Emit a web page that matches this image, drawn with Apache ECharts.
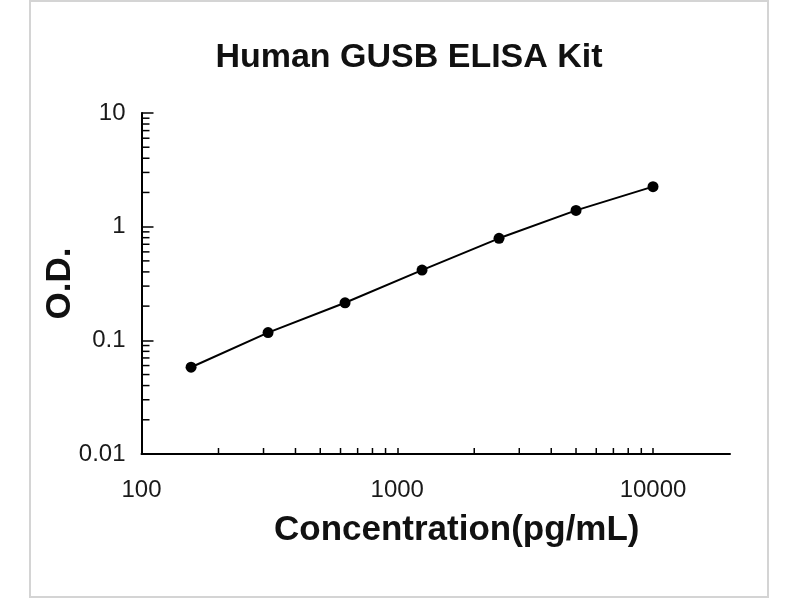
<!DOCTYPE html>
<html>
<head>
<meta charset="utf-8">
<script src="https://cdn.jsdelivr.net/npm/echarts@6/dist/echarts.min.js"></script>
<style>
  html, body { margin: 0; padding: 0; background: #fff; }
  #chart { width: 800px; height: 600px; }
</style>
</head>
<body>
<div id="chart"></div>
<script>
// ---- data ----
const concentrations = [156.25, 312.5, 625, 1250, 2500, 5000, 10000];
const odValues = [0.058, 0.117, 0.214, 0.415, 0.79, 1.39, 2.25];
const xRange = [100, 20000];
const yRange = [0.01, 10];
const xMinorTicks = [200, 300, 400, 500, 600, 700, 800, 900, 2000, 3000, 4000, 5000, 6000, 7000, 8000, 9000];
const yMinorTicks = [0.02, 0.03, 0.04, 0.05, 0.06, 0.07, 0.08, 0.09, 0.2, 0.3, 0.4, 0.5, 0.6, 0.7, 0.8, 0.9, 2, 3, 4, 5, 6, 7, 8, 9];
const titleText = 'Human GUSB ELISA Kit';
const xName = 'Concentration(pg/mL)';
const yName = 'O.D.';

const FONT = '"Liberation Sans", Arial, sans-serif';
const chart = echarts.init(document.getElementById('chart'), null, { renderer: 'canvas' });

function plainNumber(v) {
  return String(Math.round(v * 1000) / 1000);
}

const option = {
  animation: false,
  backgroundColor: '#ffffff',
  title: {
    text: titleText,
    left: 404,
    top: 36,
    textAlign: 'center',
    textStyle: { fontFamily: FONT, fontWeight: 'bold', fontSize: 34, color: '#111' }
  },
  graphic: [{
    type: 'rect',
    shape: { x: 30, y: 1, width: 738, height: 596 },
    style: { fill: 'none', stroke: '#d4d4d4', lineWidth: 2 },
    silent: true
  }],
  grid: { left: 141.5, right: 70, top: 113, bottom: 146 },
  xAxis: {
    type: 'log',
    logBase: 10,
    min: xRange[0],
    max: xRange[1],
    name: xName,
    nameLocation: 'middle',
    nameGap: 59,
    nameMoveOverlap: false,
    nameTextStyle: { fontFamily: FONT, fontWeight: 'bold', fontSize: 35, color: '#111', padding: [0, 0, 0, 42] },
    axisLine: { show: true, lineStyle: { color: '#000', width: 2 } },
    axisTick: { show: true, inside: true, length: 6, lineStyle: { color: '#000', width: 1.5 } },
    axisLabel: { showMaxLabel: false, margin: 24, fontFamily: FONT, fontSize: 24, color: '#1a1a1a', formatter: plainNumber },
    splitLine: { show: false }
  },
  yAxis: {
    type: 'log',
    logBase: 10,
    min: yRange[0],
    max: yRange[1],
    name: yName,
    nameLocation: 'middle',
    nameGap: 64,
    nameMoveOverlap: false,
    nameTextStyle: { fontFamily: FONT, fontWeight: 'bold', fontSize: 35, color: '#111' },
    axisLine: { show: true, lineStyle: { color: '#000', width: 2 } },
    axisTick: { show: true, inside: true, length: 12, lineStyle: { color: '#000', width: 1.5 } },
    axisLabel: { margin: 16, fontFamily: FONT, fontSize: 24, color: '#1a1a1a', formatter: plainNumber },
    splitLine: { show: false }
  },
  series: [
    {
      type: 'custom',
      silent: true,
      z: 1,
      data: xMinorTicks.map(function (v) { return [v, yRange[0]]; }),
      renderItem: function (params, api) {
        const p = api.coord([api.value(0), api.value(1)]);
        return { type: 'line', shape: { x1: p[0], y1: p[1], x2: p[0], y2: p[1] - 6 }, style: { stroke: '#000', lineWidth: 1.5 } };
      }
    },
    {
      type: 'custom',
      silent: true,
      z: 1,
      data: yMinorTicks.map(function (v) { return [xRange[0], v]; }),
      renderItem: function (params, api) {
        const p = api.coord([api.value(0), api.value(1)]);
        return { type: 'line', shape: { x1: p[0], y1: p[1], x2: p[0] + 8, y2: p[1] }, style: { stroke: '#000', lineWidth: 1.5 } };
      }
    },
    {
      type: 'line',
      z: 3,
      data: concentrations.map(function (c, i) { return [c, odValues[i]]; }),
      symbol: 'circle',
      symbolSize: 11,
      itemStyle: { color: '#000' },
      lineStyle: { color: '#000', width: 2 },
      smooth: false
    }
  ]
};
chart.setOption(option);
</script>
</body>
</html>
